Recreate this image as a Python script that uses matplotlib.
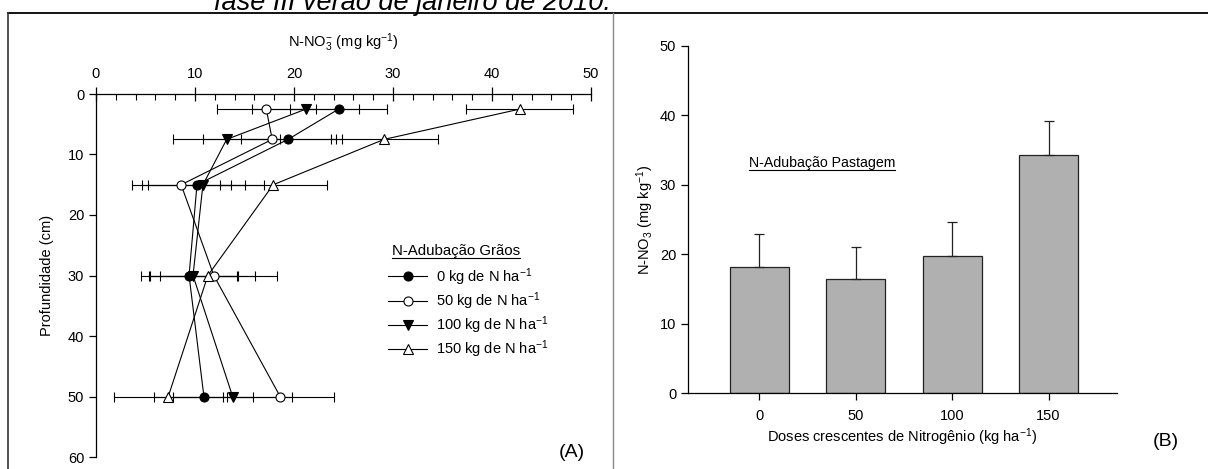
import matplotlib
matplotlib.use("Agg")
import matplotlib.pyplot as plt
from matplotlib.lines import Line2D
from matplotlib.ticker import MultipleLocator

plt.rcParams['font.family'] = ['Liberation Sans', 'DejaVu Sans']
plt.rcParams['mathtext.fontset'] = 'custom'
plt.rcParams['mathtext.rm'] = 'Liberation Sans'
plt.rcParams['mathtext.it'] = 'Liberation Sans:italic'
plt.rcParams['mathtext.default'] = 'regular'

# ---------------- data ----------------
depths = [2.5, 7.5, 15, 30, 50]
n0 = [24.5, 19.4, 10.2, 9.4, 10.9]
sd0 = [4.9, 4.8, 4.9, 4.9, 5.0]
n50 = [17.2, 17.8, 8.6, 11.9, 18.6]
sd50 = [5.0, 7.0, 5.0, 6.4, 5.4]
n100 = [21.2, 13.2, 10.8, 9.8, 13.8]
sd100 = [5.4, 5.4, 6.2, 4.4, 6.0]
n150 = [42.8, 29.1, 17.9, 11.3, 7.3]
sd150 = [5.4, 5.4, 5.4, 4.8, 5.5]
series_labels = ['0 kg de N ha$^{-1}$', '50 kg de N ha$^{-1}$',
                 '100 kg de N ha$^{-1}$', '150 kg de N ha$^{-1}$']

doses = ['0', '50', '100', '150']
pasture_mean = [18.2, 16.4, 19.75, 34.3]
pasture_sd = [4.7, 4.65, 4.95, 4.9]

W, H = 1208, 469
fig = plt.figure(figsize=(W / 100, H / 100), dpi=100)


def fx(px):
    return px / W


def fy(py):
    return 1 - py / H


# ---------------- frame / title ----------------
fig.add_artist(Line2D([fx(8), fx(1208)], [fy(13), fy(13)], color='black', lw=1.3))
fig.add_artist(Line2D([fx(8), fx(8)], [fy(13), fy(470)], color='#333333', lw=1.2))
fig.add_artist(Line2D([fx(613), fx(613)], [fy(13), fy(470)], color='#888888', lw=1.0))
fig.text(fx(214), fy(10), 'fase III verão de janeiro de 2010.', fontsize=19.5,
         style='italic', ha='left', va='baseline')

# ---------------- panel A ----------------
axA = fig.add_axes([fx(96), fy(457), fx(591) - fx(96), fy(94) - fy(457)])
axA.set_xlim(0, 50)
axA.set_ylim(60, 0)
axA.xaxis.tick_top()
axA.xaxis.set_label_position('top')
for s in ['right', 'bottom']:
    axA.spines[s].set_visible(False)
for s in ['top', 'left']:
    axA.spines[s].set_linewidth(0.9)
axA.xaxis.set_major_locator(MultipleLocator(10))
axA.xaxis.set_minor_locator(MultipleLocator(2))
axA.yaxis.set_major_locator(MultipleLocator(10))
axA.tick_params(axis='x', which='major', direction='inout', length=10, width=0.9,
                labelsize=10.5, pad=4)
axA.tick_params(axis='x', which='minor', direction='in', length=4, width=0.8)
axA.tick_params(axis='y', which='major', direction='out', length=5, width=0.9,
                labelsize=10.5)
axA.set_xlabel('N-NO$_3^{-}$ (mg kg$^{-1}$)', fontsize=10.5, labelpad=15)
axA.set_ylabel('Profundidade (cm)', fontsize=10.5, labelpad=10)

styles = [dict(marker='o', mfc='black', ms=6.5),
          dict(marker='o', mfc='white', ms=6.5),
          dict(marker='v', mfc='black', ms=7),
          dict(marker='^', mfc='white', ms=7)]
handles = []
for vals, sds, st, lab in zip([n0, n50, n100, n150], [sd0, sd50, sd100, sd150],
                              styles, series_labels):
    axA.errorbar(vals, depths, xerr=sds, color='black', lw=0.8,
                 elinewidth=0.8, capsize=3.8, capthick=0.8, mec='black',
                 mew=0.8, label=lab, **st)
    handles.append(Line2D([], [], color='black', lw=0.8, mec='black', mew=0.8,
                          **st))

axA.legend(handles, series_labels, loc='upper left',
           bbox_to_anchor=(fx(388), fy(266)), bbox_transform=fig.transFigure,
           frameon=False, fontsize=10.5, handlelength=2.7, handletextpad=0.6,
           labelspacing=0.17, borderpad=0, borderaxespad=0)

axA.text(fx(572), fy(452), '(A)', transform=fig.transFigure, fontsize=14,
         ha='center', va='center')

# ---------------- panel B ----------------
axB = fig.add_axes([fx(688), fy(393.3), fx(1117) - fx(688), fy(45.7) - fy(393.3)])
pos = list(range(len(doses)))
axB.bar(pos, pasture_mean, width=0.61, color='#b0b0b0', edgecolor='#222222',
        linewidth=0.9, zorder=2)
axB.errorbar(pos, pasture_mean, yerr=[[0] * len(doses), pasture_sd], fmt='none',
             ecolor='#222222', elinewidth=0.9, capsize=3.8, capthick=0.9, zorder=3)
axB.set_xlim(-0.74, 3.71)
axB.set_ylim(0, 50)
axB.set_xticks(pos)
axB.set_xticklabels(doses)
axB.yaxis.set_major_locator(MultipleLocator(10))
for s in ['right', 'top']:
    axB.spines[s].set_visible(False)
for s in ['left', 'bottom']:
    axB.spines[s].set_linewidth(0.9)
axB.tick_params(axis='both', direction='out', length=5, width=0.9, labelsize=10.5)
axB.tick_params(axis='x', pad=6)
axB.set_ylabel('N-NO$_3$ (mg kg$^{-1}$)', fontsize=10.5, labelpad=3)
axB.set_xlabel('Doses crescentes de Nitrogênio (kg ha$^{-1}$)', fontsize=10.5,
               labelpad=3)
fig.text(fx(1166), fy(441), '(B)', fontsize=14, ha='center', va='center')

# ---------------- underlined captions ----------------
tA = fig.text(fx(392), fy(255), 'N-Adubação Grãos', fontsize=10.8,
              ha='left', va='baseline')
tB = fig.text(fx(822), fy(167), 'N-Adubação Pastagem', fontsize=10.2,
              ha='center', va='baseline')
fig.canvas.draw()
renderer = fig.canvas.get_renderer()
for t, base in [(tA, 255), (tB, 167)]:
    bb = t.get_window_extent(renderer)
    fig.add_artist(Line2D([bb.x0 / W, bb.x1 / W], [fy(base + 3), fy(base + 3)],
                          color='black', lw=0.8))

fig.savefig('out.png', dpi=100)
